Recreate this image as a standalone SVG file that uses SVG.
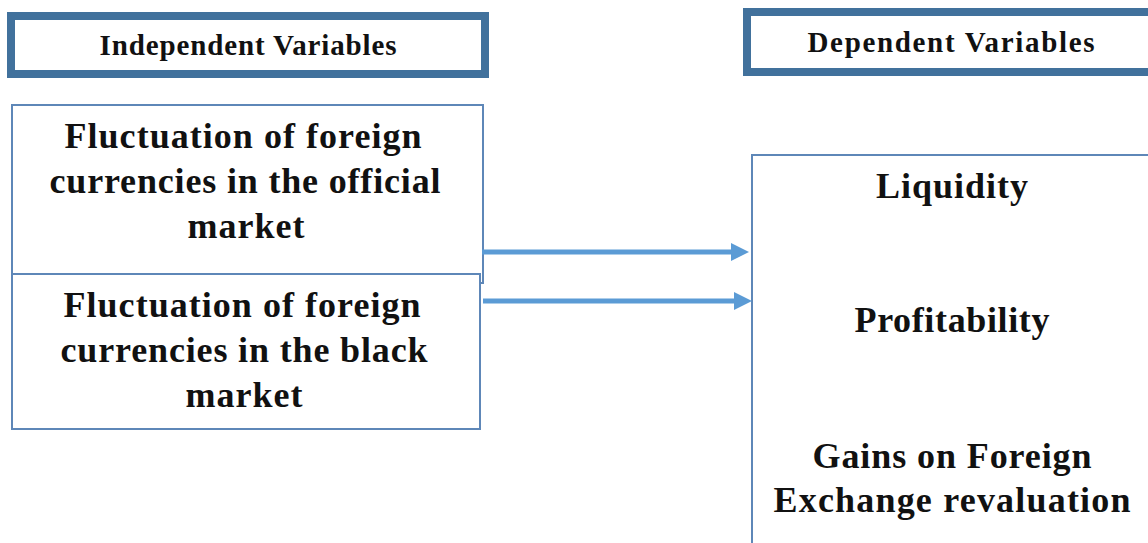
<svg xmlns="http://www.w3.org/2000/svg" width="1148" height="543" viewBox="0 0 1148 543">
<defs>
<style>
.hdr{fill:#fff;stroke:#41719C;stroke-width:8}
.box{fill:#fff;stroke:#5E87B8;stroke-width:2}
.t{font-family:"Liberation Serif","Times New Roman",serif;font-weight:bold;fill:#111;text-anchor:middle}
.h{font-size:29px}
.b{font-size:36px}
.arr{stroke:#5B9BD5;stroke-width:5;fill:none}
.head{fill:#5B9BD5}
</style>
</defs>
<rect width="1148" height="543" fill="#fff"/>
<g id="independent-header">
<rect class="hdr" x="11" y="16" width="474" height="58"/>
<text class="t h" x="248" y="55" textLength="297" lengthAdjust="spacing">Independent Variables</text>
</g>
<g id="dependent-header">
<rect class="hdr" x="747" y="12" width="420" height="60"/>
<text class="t h" x="951" y="52" textLength="287" lengthAdjust="spacing">Dependent Variables</text>
</g>
<g id="official-market">
<rect class="box" x="12" y="105" width="471" height="178"/>
<text class="t b" x="243" y="148" textLength="357" lengthAdjust="spacing">Fluctuation of foreign</text>
<text class="t b" x="245" y="193" textLength="391" lengthAdjust="spacing">currencies in the official</text>
<text class="t b" x="246" y="238" textLength="117" lengthAdjust="spacing">market</text>
</g>
<g id="black-market">
<rect class="box" x="12" y="274" width="468" height="155"/>
<text class="t b" x="242" y="317" textLength="357" lengthAdjust="spacing">Fluctuation of foreign</text>
<text class="t b" x="244" y="362" textLength="367" lengthAdjust="spacing">currencies in the black</text>
<text class="t b" x="244" y="407" textLength="117" lengthAdjust="spacing">market</text>
</g>
<g id="dependent-box">
<rect class="box" x="752" y="155" width="420" height="420"/>
<text class="t b" x="952" y="198" textLength="152" lengthAdjust="spacing">Liquidity</text>
<text class="t b" x="952" y="332" textLength="195" lengthAdjust="spacing">Profitability</text>
<text class="t b" x="952" y="468" textLength="279" lengthAdjust="spacing">Gains on Foreign</text>
<text class="t b" x="952" y="512" textLength="357" lengthAdjust="spacing">Exchange revaluation</text>
</g>
<g id="connectors">
<line class="arr" x1="482" y1="252" x2="734" y2="252"/>
<polygon class="head" points="731,243 749,252 731,261"/>
<line class="arr" x1="483" y1="301" x2="737" y2="301"/>
<polygon class="head" points="734,292 752,301 734,310"/>
</g>
</svg>
